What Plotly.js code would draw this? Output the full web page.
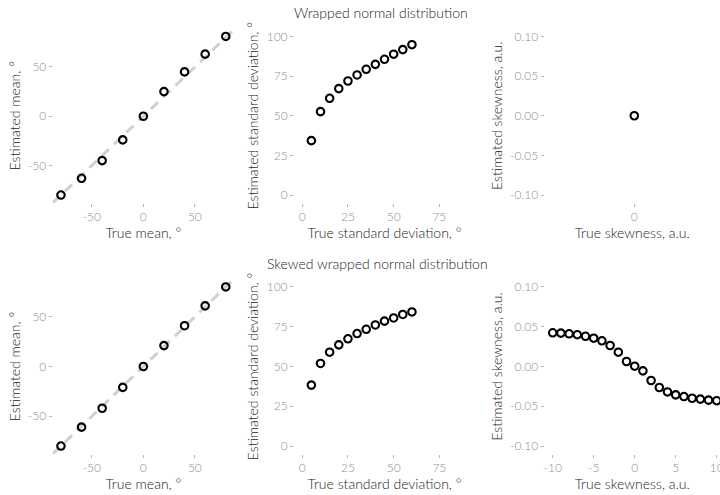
<!DOCTYPE html>
<html>
<head>
<meta charset="utf-8">
<script src="https://cdn.plot.ly/plotly-3.0.1.min.js"></script>
<style>html,body{margin:0;padding:0;background:#fff;}#plot{width:720px;height:495px;}</style>
</head>
<body>
<div id="plot"></div>
<script>
// ---- data ----
var trueMean = [-80, -60, -40, -20, 0, 20, 40, 60, 80];
var estMeanWrapped = [-80, -63, -45, -24, 0, 25, 45, 63, 81];
var estMeanSkewed = [-80, -61, -42, -21, 0, 21, 41, 61, 80];

var trueSD = [5, 10, 15, 20, 25, 30, 35, 40, 45, 50, 55, 60];
var estSDWrapped = [34.3, 52.6, 61.0, 67.1, 71.9, 75.7, 79.3, 82.4, 85.6, 88.8, 91.7, 94.8];
var estSDSkewed = [38.3, 51.9, 59.0, 63.6, 67.4, 70.7, 73.4, 76.1, 78.5, 80.5, 82.7, 84.3];

var trueSkewWrapped = [0];
var estSkewWrapped = [0];
var trueSkewSkewed = [-10, -9, -8, -7, -6, -5, -4, -3, -2, -1, 0, 1, 2, 3, 4, 5, 6, 7, 8, 9, 10];
var estSkewSkewed = [0.0424, 0.0420, 0.0411, 0.0400, 0.0380, 0.0356, 0.0323, 0.0264, 0.0180, 0.0063, 0.0004,
                     -0.0055, -0.0176, -0.0264, -0.0320, -0.0357, -0.0378, -0.0399, -0.0410, -0.0423, -0.0430];

var identityLine = [-100, 100];

var titles = ["Wrapped normal distribution", "Skewed wrapped normal distribution"];
var xTitles = ["True mean, °", "True standard deviation, °", "True skewness, a.u."];
var yTitles = ["Estimated mean, °", "Estimated standard deviation, °", "Estimated skewness, a.u."];

// ---- styling ----
var W = 720, H = 495;
var FONT = "Lato, 'Open Sans', sans-serif";
var marker = {symbol: "circle-open", size: 7.5, color: "#000", line: {width: 2.1, color: "#000"}};
var dashLine = {color: "#d0d0d0", width: 3, dash: "10px,7px"};

function px2x(a, b) { return [a / W, Math.min(b / W, 1)]; }
function px2y(top, bottom) { return [1 - bottom / H, 1 - top / H]; }

var cols = [px2x(52.7, 234), px2x(294, 475), px2x(544.5, 720)];
var rows = [px2y(28.5, 203), px2y(279, 454)];

var traces = [];
var layout = {
  width: W, height: H,
  margin: {l: 0, r: 0, t: 0, b: 0},
  paper_bgcolor: "#fff", plot_bgcolor: "#fff",
  showlegend: false,
  font: {family: FONT, color: "#222"},
  annotations: []
};

function axisX(idx, dom, range, tickvals, title, anchor) {
  layout["xaxis" + (idx === 1 ? "" : idx)] = {
    domain: dom, range: range, anchor: anchor,
    showgrid: false, zeroline: false, showline: false,
    ticks: "outside", ticklen: 3, tickwidth: 1, tickcolor: "#b5b5b5",
    ticklabeloverflow: "allow",
    tickvals: tickvals, ticktext: tickvals.map(function (v) { return String(v); }),
    tickfont: {family: FONT, size: 12, color: "#8f8f8f", weight: 300},
    title: {text: title, font: {family: FONT, size: 14, color: "#1a1a1a", weight: 300}, standoff: 4}
  };
}
function axisY(idx, dom, range, tickvals, ticktext, title, anchor) {
  layout["yaxis" + (idx === 1 ? "" : idx)] = {
    domain: dom, range: range, anchor: anchor,
    showgrid: false, zeroline: false, showline: false,
    ticks: "outside", ticklen: 3, tickwidth: 1, tickcolor: "#b5b5b5",
    tickvals: tickvals, ticktext: ticktext,
    tickfont: {family: FONT, size: 12, color: "#8f8f8f", weight: 300},
    title: {text: title, font: {family: FONT, size: 14, color: "#1a1a1a", weight: 300}, standoff: 4}
  };
}

var meanTicks = [-50, 0, 50];
var sdXTicks = [0, 25, 50, 75];
var sdYTicks = [0, 25, 50, 75, 100];
var skewYTicks = [-0.10, -0.05, 0.00, 0.05, 0.10];
var skewYText = ["-0.10", "-0.05", "0.00", "0.05", "0.10"];

var meanData = [estMeanWrapped, estMeanSkewed];
var sdData = [estSDWrapped, estSDSkewed];
var skewX = [trueSkewWrapped, trueSkewSkewed];
var skewY = [estSkewWrapped, estSkewSkewed];
var meanYRanges = [[-88.05, 89.05], [-88, 88]];
var skewXRanges = [[-1.1, 1.05], [-11, 10.4]];
var skewXTicks = [[0], [-10, -5, 0, 5, 10]];

for (var r = 0; r < 2; r++) {
  var base = r * 3;
  var i1 = base + 1, i2 = base + 2, i3 = base + 3;
  var xa = function (i) { return "x" + (i === 1 ? "" : i); };
  var ya = function (i) { return "y" + (i === 1 ? "" : i); };

  traces.push({x: identityLine, y: identityLine, mode: "lines", line: dashLine, xaxis: xa(i1), yaxis: ya(i1), hoverinfo: "skip"});
  traces.push({x: trueMean, y: meanData[r], mode: "markers", marker: marker, xaxis: xa(i1), yaxis: ya(i1), cliponaxis: false});
  axisX(i1, cols[0], [-88, 88], meanTicks, xTitles[0], ya(i1));
  axisY(i1, rows[r], meanYRanges[r], meanTicks, meanTicks.map(String), yTitles[0], xa(i1));

  traces.push({x: trueSD, y: sdData[r], mode: "markers", marker: marker, xaxis: xa(i2), yaxis: ya(i2), cliponaxis: false});
  axisX(i2, cols[1], [-4.5, 94.5], sdXTicks, xTitles[1], ya(i2));
  axisY(i2, rows[r], [-5, 105], sdYTicks, sdYTicks.map(String), yTitles[1], xa(i2));

  traces.push({x: skewX[r], y: skewY[r], mode: "markers", marker: marker, xaxis: xa(i3), yaxis: ya(i3), cliponaxis: true});
  axisX(i3, cols[2], skewXRanges[r], skewXTicks[r], xTitles[2], ya(i3));
  axisY(i3, rows[r], [-0.11, 0.11], skewYTicks, skewYText, yTitles[2], xa(i3));

  layout.annotations.push({
    text: titles[r], xref: "paper", yref: "paper",
    x: (r === 0 ? 381 : 377) / W, y: 1 - (r === 0 ? 12 : 263) / H,
    xanchor: "center", yanchor: "middle", showarrow: false,
    font: {family: FONT, size: 14, color: "#1a1a1a", weight: 300}
  });
}

Plotly.newPlot("plot", traces, layout, {staticPlot: true, displayModeBar: false});
</script>
</body>
</html>
